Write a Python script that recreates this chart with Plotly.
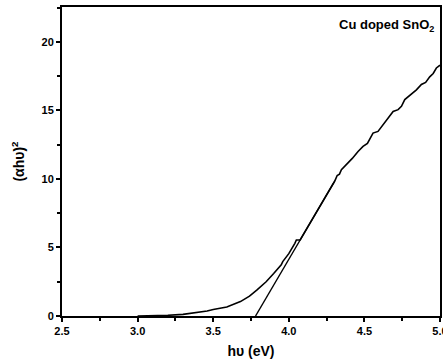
import plotly.graph_objects as go

# Measured curve: photon energy (eV) vs (alpha*h*nu)^2
energy = [3.0, 3.1, 3.2, 3.3, 3.4, 3.46, 3.5, 3.59, 3.68, 3.74, 3.79, 3.85, 3.90, 3.95, 3.96,
          4.0, 4.04, 4.05, 4.075, 4.161, 4.227, 4.304, 4.32, 4.335, 4.348, 4.381, 4.42, 4.458,
          4.491, 4.52, 4.557, 4.59, 4.624, 4.657, 4.69, 4.723, 4.745, 4.767, 4.80, 4.844, 4.877,
          4.905, 4.932, 4.955, 4.976, 5.0]
absorb = [0.0, 0.02, 0.05, 0.12, 0.25, 0.37, 0.47, 0.65, 1.05, 1.45, 1.9, 2.5, 3.1, 3.73, 3.97,
          4.55, 5.3, 5.55, 5.55, 7.15, 8.4, 9.85, 10.25, 10.35, 10.67, 11.04, 11.5, 12.0,
          12.38, 12.6, 13.35, 13.47, 13.96, 14.45, 14.93, 15.06, 15.3, 15.79, 16.1, 16.5, 16.9,
          17.05, 17.45, 17.7, 18.1, 18.3]

# Linear extrapolation (band-gap tangent)
tangent_x = [3.78, 4.30]
tangent_y = [0.0, 9.78]

label = "Cu doped SnO<sub>2</sub>"
x_ticks = [2.5, 3.0, 3.5, 4.0, 4.5, 5.0]
y_ticks = [0, 5, 10, 15, 20]

FONT = "Liberation Sans, Arial, sans-serif"

fig = go.Figure()
fig.add_trace(go.Scatter(x=energy, y=absorb, mode="lines",
                         line=dict(color="black", width=1.6), showlegend=False))
fig.add_trace(go.Scatter(x=tangent_x, y=tangent_y, mode="lines",
                         line=dict(color="black", width=1.4), showlegend=False))

axis_common = dict(showline=True, linecolor="black", linewidth=2, mirror=True,
                   showgrid=False, zeroline=False, ticks="outside", ticklen=4,
                   tickwidth=1.5, tickcolor="black", ticklabeloverflow="allow",
                   automargin=False,
                   tickfont=dict(family=FONT, size=11, color="black", weight="bold"))

fig.update_layout(
    width=443, height=362,
    margin=dict(l=62, r=3, t=7, b=46),
    paper_bgcolor="white", plot_bgcolor="white",
    xaxis=dict(range=[2.5, 5.0], tickvals=x_ticks, ticktext=[f"{v:.1f}" for v in x_ticks],
               minor=dict(ticks="outside", ticklen=3, tickwidth=1.5, tickcolor="black", dtick=0.25),
               title=dict(text="hυ (eV)", font=dict(family=FONT, size=14, color="black", weight="bold"),
                          standoff=10),
               **axis_common),
    yaxis=dict(range=[0, 22.55], tickvals=y_ticks,
               minor=dict(ticks="outside", ticklen=3, tickwidth=1.5, tickcolor="black", dtick=2.5),
               title=dict(text="(αhυ)<sup>2</sup>", font=dict(family=FONT, size=14, color="black", weight="bold"),
                          standoff=14),
               **axis_common),
    annotations=[dict(x=0.99, y=0.975, xref="paper", yref="paper", xanchor="right", yanchor="top",
                      text=label, showarrow=False,
                      font=dict(family=FONT, size=13, color="black", weight="bold"))],
)

fig.write_html("out.html")
